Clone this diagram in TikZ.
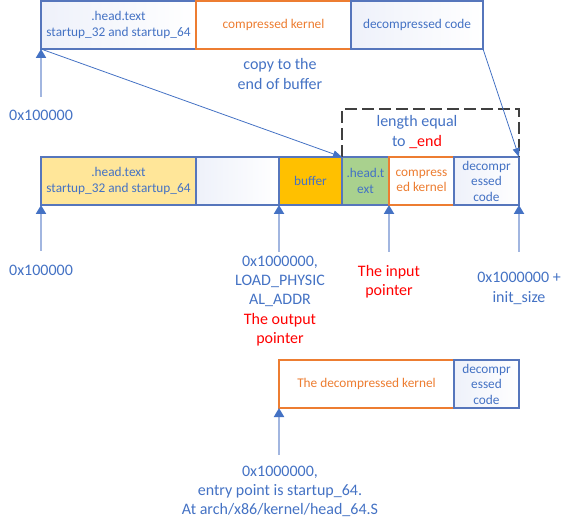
\documentclass[tikz,border=0pt]{standalone}
\usepackage{fontspec}
\setmainfont{Carlito}
\usetikzlibrary{arrows.meta}
\definecolor{txtblue}{HTML}{4472C4}
\definecolor{bordblue}{HTML}{5676BC}
\definecolor{orangeC}{HTML}{ED7D31}
\definecolor{yellowF}{HTML}{FFE699}
\definecolor{goldF}{HTML}{FFC000}
\definecolor{greenF}{HTML}{A9D18E}
\definecolor{arrline}{HTML}{A2B6E0}
\definecolor{dashgray}{HTML}{404040}
\definecolor{lav}{HTML}{EEF1FA}
\definecolor{redC}{HTML}{FF0000}
\begin{document}
\begin{tikzpicture}[x=1pt,y=-1pt,
  box/.style={draw=bordblue, line width=1.2pt, minimum height=48pt, inner sep=0pt, outer sep=0pt,
    align=center, font=\fontsize{13.3}{15.5}\selectfont, text=txtblue},
  gradbox/.style={box, left color=lav, right color=white},
  obox/.style={box, draw=orangeC, fill=white, text=orangeC},
  lbl/.style={align=center, font=\fontsize{16}{19.3}\selectfont, text=txtblue, inner sep=0pt},
  uparr/.style={draw=arrline, line width=2pt, -{Triangle[width=10pt,length=9pt,color=txtblue]}},
  diag/.style={draw=txtblue, line width=0.8pt, -{Triangle[width=7pt,length=9pt]}},
  dashbox/.style={draw=dashgray, line width=2.4pt, dash pattern=on 12pt off 5pt}]
\useasboundingbox (0,0) rectangle (573,529);

% top row
\node[gradbox, minimum width=155pt] (t1) at (118.5,25) {.head.text\\startup\_32 and startup\_64};
\node[obox, minimum width=155pt] (t2) at (273.5,25) {compressed kernel};
\node[gradbox, minimum width=132pt] (t3) at (417,25) {decompressed code};

% middle row
\node[box, fill=yellowF, minimum width=155pt] (m1) at (118.5,181) {.head.text\\startup\_32 and startup\_64};
\node[gradbox, minimum width=83pt] (m2) at (237.5,181) {};
\node[box, fill=goldF, minimum width=63pt] (m3) at (310.5,181) {buffer};
\node[box, fill=greenF, minimum width=47pt] (m4) at (365.5,181) {.head.t\\ext};
\node[obox, minimum width=65pt] (m5) at (421.5,181) {compress\\ed kernel};
\node[gradbox, minimum width=65pt] (m6) at (486.5,181) {decompr\\essed\\code};

% bottom row
\node[obox, minimum width=175pt] (b1) at (366.5,384) {The decompressed kernel};
\node[gradbox, minimum width=65pt] (b2) at (486.5,384) {decompr\\essed\\code};

% dashed bracket
\draw[dashbox] (m4.north west) -- ++(0,-48) -| (m6.north east);
\node[lbl] (len) at (417,132) {length equal\\to {\color{redC}\_end}};

% copy arrows
\draw[diag] (t1.south west) -- (m4.north west);
\draw[diag] (t3.south east) -- (m6.north east);
\node[lbl] (copy) at (280,74) {copy to the\\end of buffer};

% vertical arrows and labels
\coordinate (a0) at (41,97);
\draw[uparr] (a0) -- (t1.south west);
\node[lbl] (l0) at (41,115) {0x100000};

\coordinate (a1) at (41,251);
\draw[uparr] (a1) -- (m1.south west);
\node[lbl] (l1) at (41,270) {0x100000};

\coordinate (a2) at (279,252);
\draw[uparr] (a2) -- (m3.south west);
\node[lbl] (l2) at (280,301) {0x1000000,\\LOAD\_PHYSIC\\AL\_ADDR\\{\color{redC}The output}\\{\color{redC}pointer}};

\coordinate (a3) at (389,252);
\draw[uparr] (a3) -- (m5.south west);
\node[lbl, text=redC] (l3) at (389,282) {The input\\pointer};

\coordinate (a4) at (519,252);
\draw[uparr] (a4) -- (m6.south east);
\node[lbl] (l4) at (519,288.5) {0x1000000 +\\init\_size};

\coordinate (a5) at (279,455);
\draw[uparr] (a5) -- (b1.south west);
\node[lbl] (l5) at (280,491.5) {0x1000000,\\entry point is startup\_64.\\At arch/x86/kernel/head\_64.S};
\end{tikzpicture}
\end{document}
